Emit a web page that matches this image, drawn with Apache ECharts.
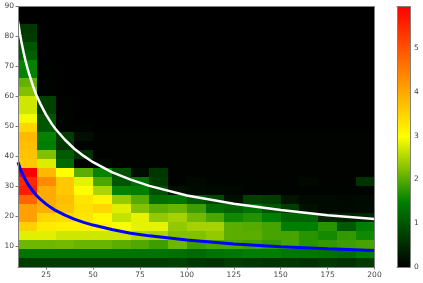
<!DOCTYPE html>
<html><head><meta charset="utf-8">
<style>html,body{margin:0;padding:0;background:#fff}#c{width:423px;height:283px;filter:blur(0.4px)}</style>
<script src="https://cdn.jsdelivr.net/npm/echarts@6/dist/echarts.min.js"></script>
</head><body><div id="c"></div>
<script>
const xTicks=[25,50,75,100,125,150,175,200];
const yTicks=[10,20,30,40,50,60,70,80,90];
const cbarTicks=[0,1,2,3,4,5];
const colEdges=[10,20,30,40,50,60,70,80,90,100,110,120,130,140,150,160,170,180,190];
const colWidth=10, rowHeight=3;
const valueMax=5.95;
const row03=[.70,.70,.70,.68,.68,.68,.70,.70,.76,.64,.58,.70,.64,.58,.64,.58,.64,.58,.70];
const row06=[1.34,1.34,1.34,1.34,1.34,1.34,1.34,1.34,1.28,1.22,1.34,1.40,1.46,1.46,1.40,1.40,1.34,1.28,1.46];
const row09=[2.13,2.13,2.15,2.10,2.10,2.02,1.96,1.84,2.13,1.84,1.93,1.93,1.87,1.78,1.90,1.72,1.78,1.84,1.90];
const row12=[2.80,2.80,2.69,2.69,2.69,2.69,2.51,2.48,2.25,2.25,2.34,2.02,2.02,1.90,1.90,1.72,1.61,1.78,1.58];
const row15=[3.51,3.21,3.16,3.16,3.10,2.95,2.83,2.83,2.34,2.45,2.45,2.02,1.99,1.90,1.46,1.46,1.72,1.05,1.46];
const row18=[4.09,3.45,3.39,3.27,3.04,2.63,2.83,2.34,2.45,2.16,1.93,1.58,1.69,1.46,1.16,1.16,.47,.41,.47];
const row21=[4.09,3.91,3.68,3.33,3.45,2.80,2.25,2.02,2.10,1.84,1.28,1.16,1.34,1.00,.70,.20,.10,.10,.12];
const row24=[4.79,3.97,3.74,3.27,3.10,2.37,1.99,1.28,1.34,1.05,.81,.17,.76,.70,.23,.12,.12,.09,.12];
const row27=[5.61,3.97,3.62,2.98,2.48,1.51,1.46,.93,.17,.12,.10,.08,.05,.05,.05,.05,.05,.05,.05];
const row30=[5.49,4.32,3.62,2.83,1.93,1.00,1.28,.70,.05,.10,.05,.05,.05,.03,.03,.10,.03,.03,.58];
const row33=[5.95,3.80,2.98,2.02,1.51,.93,.15,.64,.03,.03,.03,.03,.03,.03,.03,.03,.03,.03,.03];
const row36=[3.62,2.77,1.22,.03,.10,.03,.03,.03,.03,.03,.03,.03,.03,.03,.03,.03,.03,.03,.03];
const row39=[3.68,2.25,1.05,.58,.03,.03,.03,.03,.03,.03,.03,.03,.03,.03,.03,.03,.03,.03,.03];
const row42=[3.74,1.46,.64,.05,.03,.03,.03,.03,.03,.03,.03,.03,.03,.03,.03,.03,.03,.03,.03];
const row45=[3.80,1.51,.70,.17,.03,.03,.03,.03,.03,.03,.03,.03,.03,.03,.03,.03,.03,.03,.03];
const row48=[3.45,1.00,.05,.03,0,0,0,0,0,0,0,0,0,0,0,0,0,0,0];
const row51=[2.92,1.00,.05,0,0,0,0,0,0,0,0,0,0,0,0,0,0,0,0];
const row54=[2.69,.76,.03,0,0,0,0,0,0,0,0,0,0,0,0,0,0,0,0];
const row57=[2.69,.76,.03,0,0,0,0,0,0,0,0,0,0,0,0,0,0,0,0];
const row60=[2.25,.03,0,0,0,0,0,0,0,0,0,0,0,0,0,0,0,0,0];
const row63=[2.07,.03,0,0,0,0,0,0,0,0,0,0,0,0,0,0,0,0,0];
const row66=[1.51,.02,0,0,0,0,0,0,0,0,0,0,0,0,0,0,0,0,0];
const row69=[1.51,.02,0,0,0,0,0,0,0,0,0,0,0,0,0,0,0,0,0];
const row72=[1.10,0,0,0,0,0,0,0,0,0,0,0,0,0,0,0,0,0,0];
const row75=[.99,0,0,0,0,0,0,0,0,0,0,0,0,0,0,0,0,0,0];
const row78=[.70,0,0,0,0,0,0,0,0,0,0,0,0,0,0,0,0,0,0];
const row81=[.64,0,0,0,0,0,0,0,0,0,0,0,0,0,0,0,0,0,0];
const rowStarts=[3,6,9,12,15,18,21,24,27,30,33,36,39,42,45,48,51,54,57,60,63,66,69,72,75,78,81];
const rows=[row03,row06,row09,row12,row15,row18,row21,row24,row27,row30,row33,row36,row39,row42,row45,row48,row51,row54,row57,row60,row63,row66,row69,row72,row75,row78,row81];
const curveX=[10,11,12,13,14,15,16,18,20,22,25,28,30,35,40,45,50,60,70,80,100,125,150,175,200];
const whiteCurve=[85,81,77.6,74.6,71.9,69.5,67.3,63.4,60.1,57.4,53.8,50.8,49.1,45.5,42.5,40.1,38,34.7,32.2,30.1,26.9,24.1,22,20.3,19];
const blueCurve=[38,36.2,34.6,33.3,32.1,31,30,28.3,26.8,25.6,24,22.7,21.9,20.3,19,17.9,17,15.5,14.3,13.4,12,10.7,9.8,9.1,8.5];
const colours=['#000000','#008000','#ffff00','#ff8000','#ff0000'];

const cells=[];
rows.forEach((r,i)=>r.forEach((v,j)=>cells.push([colEdges[j],rowStarts[i],v])));
const spine={show:true,onZero:false,lineStyle:{color:'#808080',width:1}};
const axisCommon={
  axisLine:spine,splitLine:{show:false},z:10,
  axisTick:{length:2.5,lineStyle:{color:'#777',width:1}},
  axisLabel:{color:'#444',fontSize:7.5,fontFamily:'DejaVu Sans',margin:4}
};
const bareAxis={axisLine:spine,axisTick:{show:false},axisLabel:{show:false},splitLine:{show:false},z:10};
const chart=echarts.init(document.getElementById('c'),null,{renderer:'canvas'});
chart.setOption({
  animation:false,backgroundColor:'#fff',
  grid:[
    {left:18,top:6.5,width:356.5,height:260.5,show:true,backgroundColor:'#000',borderWidth:0},
    {left:397,top:6.5,width:13,height:260.5,show:false}
  ],
  xAxis:[
    {...axisCommon,type:'value',gridIndex:0,min:10,max:200,
      axisTick:{...axisCommon.axisTick,customValues:xTicks},
      axisLabel:{...axisCommon.axisLabel,customValues:xTicks}},
    {type:'category',gridIndex:1,data:['c'],position:'bottom',...bareAxis},
    {...bareAxis,type:'value',gridIndex:0,position:'top',min:10,max:200},
    {...bareAxis,type:'category',gridIndex:1,data:['c'],position:'top'}
  ],
  yAxis:[
    {...axisCommon,type:'value',gridIndex:0,min:3,max:90,
      axisTick:{...axisCommon.axisTick,customValues:yTicks},
      axisLabel:{...axisCommon.axisLabel,customValues:yTicks}},
    {...axisCommon,type:'value',gridIndex:1,position:'right',min:0,max:valueMax,
      axisTick:{...axisCommon.axisTick,customValues:cbarTicks},
      axisLabel:{...axisCommon.axisLabel,customValues:cbarTicks}},
    {...bareAxis,type:'value',gridIndex:0,position:'right',min:3,max:90},
    {...bareAxis,type:'value',gridIndex:1,position:'left',min:0,max:valueMax}
  ],
  visualMap:{show:false,seriesIndex:0,dimension:2,min:0,max:valueMax,inRange:{color:colours}},
  series:[
    {type:'custom',xAxisIndex:0,yAxisIndex:0,data:cells,clip:true,z:2,
      encode:{x:0,y:1},
      renderItem(params,api){
        const p0=api.coord([api.value(0),api.value(1)+rowHeight]);
        const p1=api.coord([api.value(0)+colWidth,api.value(1)]);
        const x0=Math.round(p0[0]),y0=Math.round(p0[1]),x1=Math.round(p1[0]),y1=Math.round(p1[1]);
        return {type:'rect',shape:{x:x0,y:y0,width:x1-x0,height:y1-y0},
          style:{fill:api.visual('color'),stroke:null}};
      }},
    {type:'line',xAxisIndex:0,yAxisIndex:0,z:3,showSymbol:false,symbol:'none',
      data:curveX.map((x,i)=>[x,whiteCurve[i]]),lineStyle:{color:'#fff',width:2.5}},
    {type:'line',xAxisIndex:0,yAxisIndex:0,z:4,showSymbol:false,symbol:'none',
      data:curveX.map((x,i)=>[x,blueCurve[i]]),lineStyle:{color:'#0000ff',width:3}},
    {type:'bar',xAxisIndex:1,yAxisIndex:1,barWidth:'100%',data:[valueMax],z:2,
      itemStyle:{color:new echarts.graphic.LinearGradient(0,1,0,0,
        colours.map((c,i)=>({offset:i/(colours.length-1),color:c})))}}
  ]
});
</script></body></html>
